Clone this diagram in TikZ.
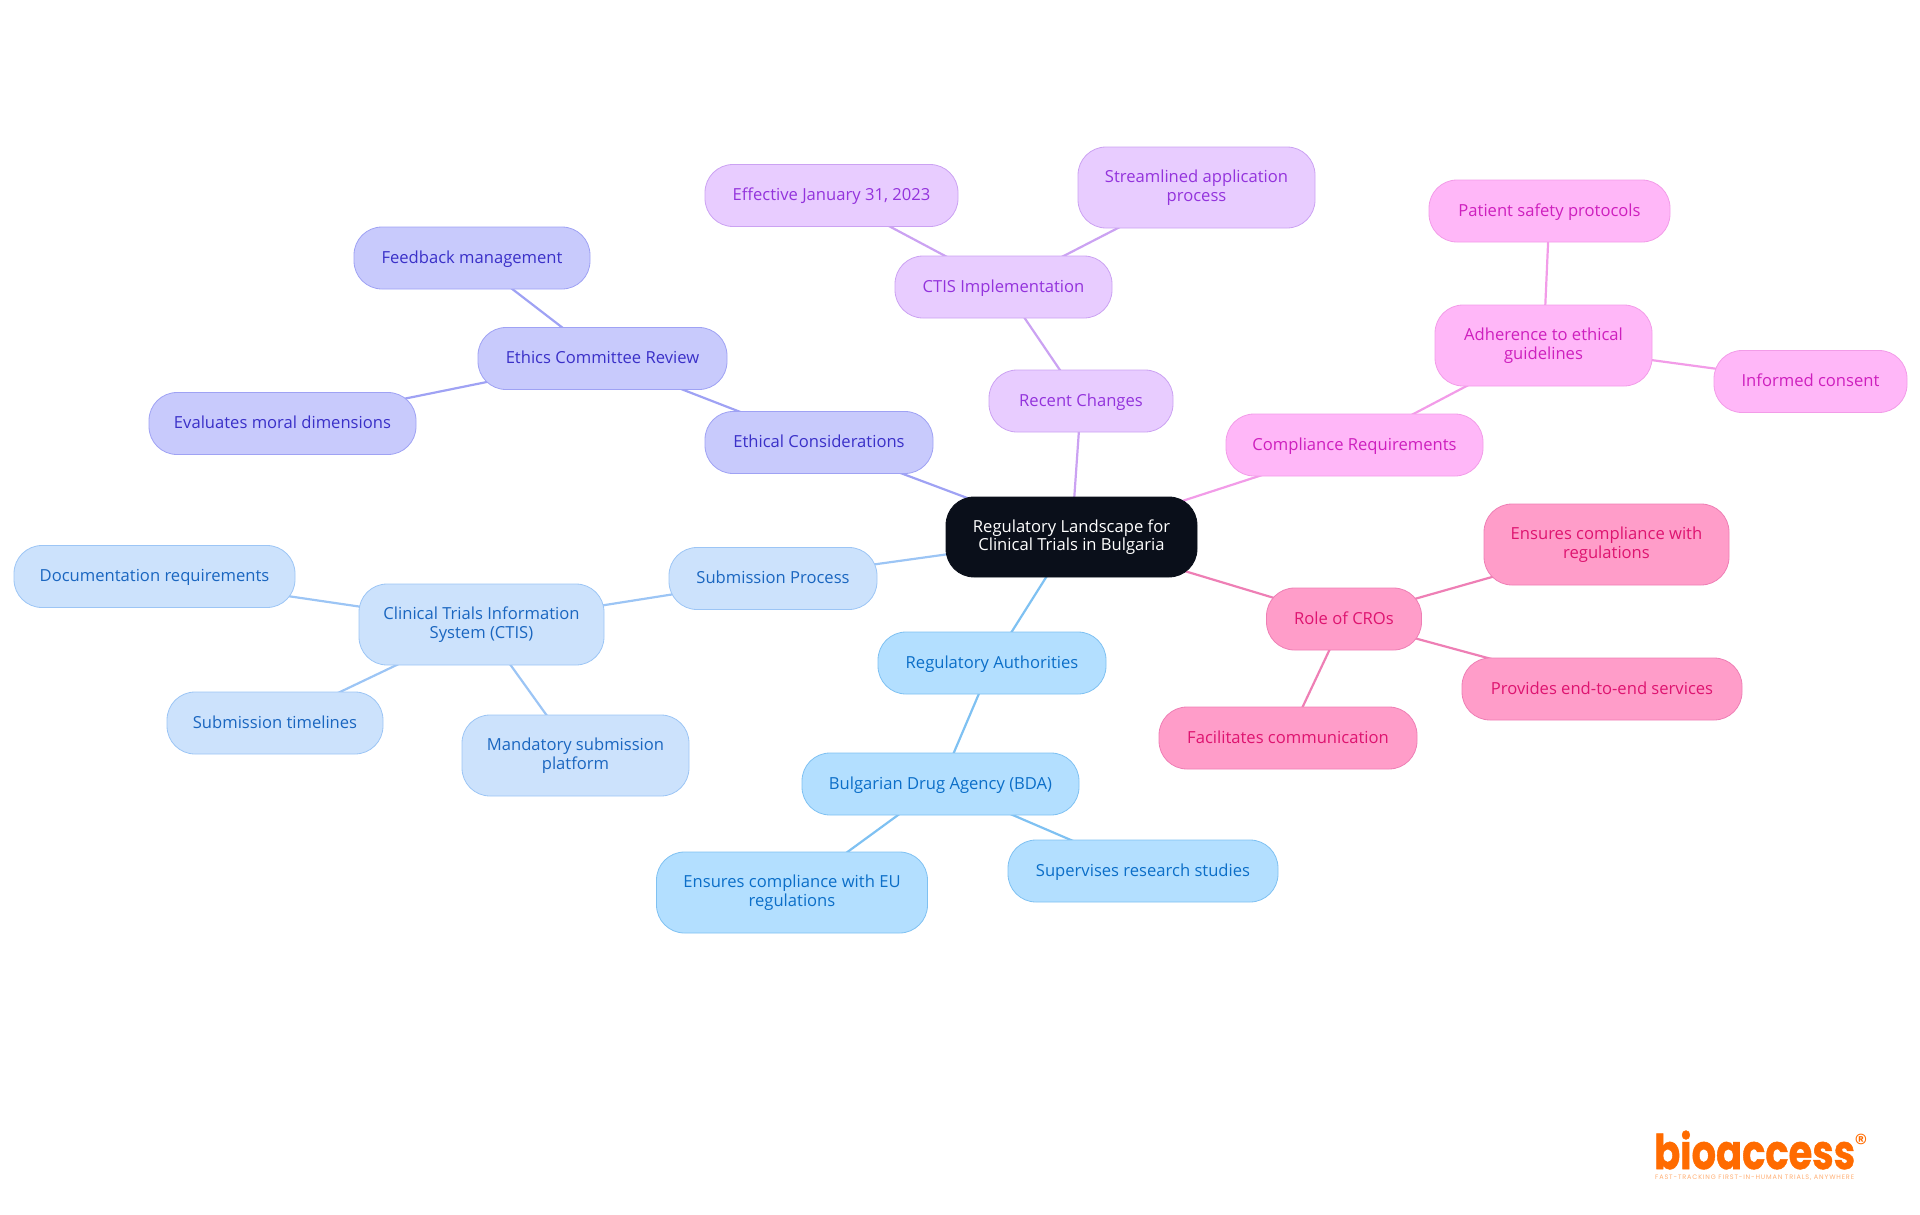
\documentclass[tikz,border=0pt]{standalone}
\usepackage{fontspec}
\setmainfont{Open Sans}
\newfontfamily\logofont[BoldFeatures={FakeBold=1}]{Poppins}
\usetikzlibrary{positioning,backgrounds}

\definecolor{root-fill}{HTML}{0A0F1A}
\definecolor{eth-fill}{HTML}{C8CAFC}  \definecolor{eth-line}{HTML}{9FA2F4}  \definecolor{eth-text}{HTML}{3A30C8}
\definecolor{rec-fill}{HTML}{E8CCFF}  \definecolor{rec-line}{HTML}{CBA2F2}  \definecolor{rec-text}{HTML}{9333DC}
\definecolor{com-fill}{HTML}{FFB7F8}  \definecolor{com-line}{HTML}{F29CE8}  \definecolor{com-text}{HTML}{CE1FBE}
\definecolor{cro-fill}{HTML}{FF9DC9}  \definecolor{cro-line}{HTML}{EE7FB5}  \definecolor{cro-text}{HTML}{DE1470}
\definecolor{reg-fill}{HTML}{B3DFFF}  \definecolor{reg-line}{HTML}{7FC1F2}  \definecolor{reg-text}{HTML}{0B6EC8}
\definecolor{sub-fill}{HTML}{CCE2FC}  \definecolor{sub-line}{HTML}{9CC5F5}  \definecolor{sub-text}{HTML}{1A66C0}
\definecolor{logo-orange}{HTML}{FF6B00}

\tikzset{
    box/.style={rounded corners=28pt,align=center,inner sep=0pt,outer sep=0pt,line width=0.8pt,
        font=\fontsize{16.6}{18.4}\selectfont,minimum height=62pt,
        execute at begin node=\rule{0pt}{14pt},execute at end node=\rule[-4pt]{0pt}{4pt}},
    tall/.style={minimum height=81pt},
    rootbox/.style={box,fill=root-fill,draw=root-fill,text=white,minimum height=80pt},
    ethbox/.style={box,fill=eth-fill,draw=eth-line,text=eth-text},
    recbox/.style={box,fill=rec-fill,draw=rec-line,text=rec-text},
    combox/.style={box,fill=com-fill,draw=com-line,text=com-text},
    crobox/.style={box,fill=cro-fill,draw=cro-line,text=cro-text},
    regbox/.style={box,fill=reg-fill,draw=reg-line,text=reg-text},
    subbox/.style={box,fill=sub-fill,draw=sub-line,text=sub-text},
    link/.style={line width=2.2pt},
}

\begin{document}
\begin{tikzpicture}[x=1pt,y=-1pt]
    \useasboundingbox (0,0) rectangle (1920,1215);  %same page as reference

    \node[rootbox,minimum width=251pt] (root) at (1071.5,537) {Regulatory Landscape for\\Clinical Trials in Bulgaria};

    %ethics branch
    \node[ethbox,minimum width=228pt] (ethical) at (819,442.5) {Ethical Considerations};
    \node[ethbox,minimum width=249pt] (committee) at (602.5,358.5) {Ethics Committee Review};
    \node[ethbox,minimum width=236pt] (feedback) at (472,258) {Feedback management};
    \node[ethbox,minimum width=267pt] (moral) at (282.5,423.5) {Evaluates moral dimensions};

    %recent changes branch
    \node[recbox,minimum width=184pt] (recent) at (1081,401) {Recent Changes};
    \node[recbox,minimum width=217pt] (ctisimpl) at (1003.5,287) {CTIS Implementation};
    \node[recbox,minimum width=253pt] (effective) at (831.5,195.5) {Effective January 31, 2023};
    \node[recbox,tall,minimum width=237pt] (streamlined) at (1196.5,187.5) {Streamlined application\\process};

    %compliance branch
    \node[combox,minimum width=257pt] (compliance) at (1354.5,445) {Compliance Requirements};
    \node[combox,tall,minimum width=217pt] (adherence) at (1543.5,345.5) {Adherence to ethical\\guidelines};
    \node[combox,minimum width=241pt] (safety) at (1549.5,211) {Patient safety protocols};
    \node[combox,minimum width=193pt] (consent) at (1810.5,381.5) {Informed consent};

    %cro branch
    \node[crobox,minimum width=155pt] (cros) at (1344,619) {Role of CROs};
    \node[crobox,tall,minimum width=245pt] (crocompl) at (1606.5,544.5) {Ensures compliance with\\regulations};
    \node[crobox,minimum width=280pt] (services) at (1602,689) {Provides end-to-end services};
    \node[crobox,minimum width=258pt] (communication) at (1288,738) {Facilitates communication};

    %authorities branch
    \node[regbox,minimum width=228pt] (authorities) at (992,663) {Regulatory Authorities};
    \node[regbox,minimum width=277pt] (bda) at (940.5,784) {Bulgarian Drug Agency (BDA)};
    \node[regbox,tall,minimum width=271pt] (eucompl) at (792,892.5) {Ensures compliance with EU\\regulations};
    \node[regbox,minimum width=270pt] (research) at (1143,871) {Supervises research studies};

    %submission branch
    \node[subbox,minimum width=208pt] (submission) at (773,578.5) {Submission Process};
    \node[subbox,tall,minimum width=245pt] (ctis) at (481.5,624.5) {Clinical Trials Information\\System (CTIS)};
    \node[subbox,minimum width=281pt] (documents) at (154.5,576.5) {Documentation requirements};
    \node[subbox,minimum width=216pt] (timelines) at (275,723) {Submission timelines};
    \node[subbox,tall,minimum width=227pt] (mandatory) at (575.5,755.5) {Mandatory submission\\platform};

    \begin{scope}[on background layer]
    \draw[link,eth-line] (root.center) -- (ethical.center);
    \draw[link,eth-line] (ethical.center) -- (committee.center);
    \draw[link,eth-line] (committee.center) -- (feedback.center);
    \draw[link,eth-line] (committee.center) -- (moral.center);

    \draw[link,rec-line] (root.center) -- (recent.center);
    \draw[link,rec-line] (recent.center) -- (ctisimpl.center);
    \draw[link,rec-line] (ctisimpl.center) -- (effective.center);
    \draw[link,rec-line] (ctisimpl.center) -- (streamlined.center);

    \draw[link,com-line] (root.center) -- (compliance.center);
    \draw[link,com-line] (compliance.center) -- (adherence.center);
    \draw[link,com-line] (adherence.center) -- (safety.center);
    \draw[link,com-line] (adherence.center) -- (consent.center);

    \draw[link,cro-line] (root.center) -- (cros.center);
    \draw[link,cro-line] (cros.center) -- (crocompl.center);
    \draw[link,cro-line] (cros.center) -- (services.center);
    \draw[link,cro-line] (cros.center) -- (communication.center);

    \draw[link,reg-line] (root.center) -- (authorities.center);
    \draw[link,reg-line] (authorities.center) -- (bda.center);
    \draw[link,reg-line] (bda.center) -- (eucompl.center);
    \draw[link,reg-line] (bda.center) -- (research.center);

    \draw[link,sub-line] (root.center) -- (submission.center);
    \draw[link,sub-line] (submission.center) -- (ctis.center);
    \draw[link,sub-line] (ctis.center) -- (documents.center);
    \draw[link,sub-line] (ctis.center) -- (timelines.center);
    \draw[link,sub-line] (ctis.center) -- (mandatory.center);
    \end{scope}

    %logo
    \node[anchor=base west,inner sep=0pt,text=logo-orange,font=\logofont\bfseries\fontsize{48}{48}\selectfont] (logo) at (1654,1169) {\scalebox{0.8}[1]{bioaccess}};
    \node[anchor=base,inner sep=0pt,text=logo-orange,font=\logofont\fontsize{26}{26}\selectfont] (regmark) at (1861,1152) {®};
    \node[anchor=base west,inner sep=0pt,text=logo-orange!55,font=\logofont\fontsize{6.5}{7}\selectfont] (tagline) at (1655,1179) {\addfontfeature{LetterSpace=13}FAST-TRACKING FIRST-IN-HUMAN TRIALS, ANYWHERE};
\end{tikzpicture}
\end{document}
